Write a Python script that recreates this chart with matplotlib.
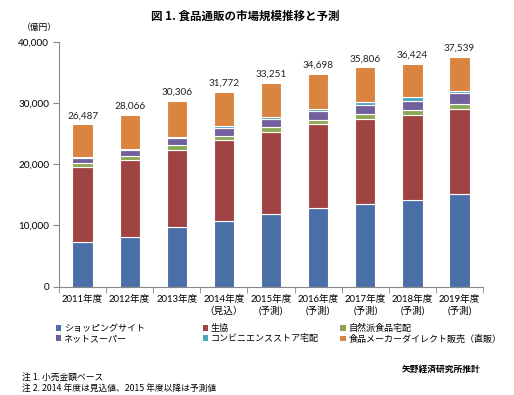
import numpy as np
import matplotlib.pyplot as plt
from matplotlib.patches import Patch

plt.rcParams['font.family'] = ['Lato', 'Noto Sans CJK JP', 'DejaVu Sans']

# データ (億円)
years = ['2011年度', '2012年度', '2013年度', '2014年度\n（見込）', '2015年度\n(予測)',
         '2016年度\n(予測)', '2017年度\n(予測)', '2018年度\n(予測)', '2019年度\n(予測)']
totals = [26487, 28066, 30306, 31772, 33251, 34698, 35806, 36424, 37539]
shopping = [7250, 8150, 9750, 10800, 11870, 12800, 13450, 14100, 15080]
coop = [12350, 12550, 12650, 13100, 13330, 13700, 13850, 13900, 13880]
nature = [650, 700, 800, 750, 870, 700, 950, 800, 820]
netsuper = [700, 870, 1000, 1200, 1230, 1500, 1450, 1570, 1790]
conveni = [200, 150, 300, 350, 350, 360, 400, 530, 430]
maker = [5337, 5646, 5806, 5572, 5601, 5638, 5706, 5524, 5539]

names = ['ショッピングサイト', '生協', '自然派食品宅配', 'ネットスーパー',
         'コンビニエンスストア宅配', '食品メーカーダイレクト販売（直販）']
colors = ['#4a6ea6', '#a04343', '#8ba955', '#72609c', '#4aa5bf', '#d9843f']
series = [shopping, coop, nature, netsuper, conveni, maker]

fig = plt.figure(figsize=(5.14, 3.95), dpi=100)
ax = fig.add_axes([0.1148, 0.2742, 0.825, 0.6202])

x = np.arange(len(years))
bottom = np.zeros(len(years))
for vals, c in zip(series, colors):
    ax.bar(x, vals, 0.43, bottom=bottom, color=c, edgecolor='white', linewidth=0.8)
    bottom += np.array(vals)

for xi, t in zip(x, totals):
    ax.annotate(f'{t:,}', (xi, t), xytext=(0, 3), textcoords='offset points',
                ha='center', va='bottom', fontsize=7.2, color='#222222')

ax.set_xlim(-0.5, len(years) - 0.5)
ax.set_ylim(0, 40000)
ax.set_yticks(np.arange(0, 40001, 10000))
ax.set_yticklabels([f'{v:,}' for v in range(0, 40001, 10000)], fontsize=7.2)
ax.set_xticks(x)
ax.set_xticklabels(years, fontsize=6.9, linespacing=1.3)
ax.set_xticks(np.arange(-0.5, len(years)), minor=True)
ax.tick_params(axis='x', which='major', length=0, pad=6)
ax.tick_params(axis='x', which='minor', length=4, color='#888888')
ax.tick_params(axis='y', length=4, color='#888888', pad=3)
for s in ['top', 'right']:
    ax.spines[s].set_visible(False)
for s in ['left', 'bottom']:
    ax.spines[s].set_color('#888888')
    ax.spines[s].set_linewidth(0.8)

fig.text(0.478, 0.96, '図 1. 食品通販の市場規模推移と予測', ha='center', va='center',
         fontsize=8.3, fontweight='bold', family='Noto Sans CJK JP')
fig.text(0.043, 0.93, '（億円）', ha='left', va='center', fontsize=6.3,
         family='Noto Sans CJK JP')

# 凡例 (3列)
handles = [Patch(facecolor=c, edgecolor='none') for c in colors]
cols_x = [0.108, 0.394, 0.662]
for i, cx in enumerate(cols_x):
    fig.legend([handles[i], handles[i + 3]], [names[i], names[i + 3]],
               loc='upper left', bbox_to_anchor=(cx, 0.18), frameon=False,
               handlelength=0.6, handleheight=0.6, handletextpad=0.3,
               labelspacing=0.15, borderpad=0, borderaxespad=0,
               prop={'family': 'Noto Sans CJK JP', 'size': 6.5})

fig.text(0.934, 0.066, '矢野経済研究所推計', ha='right', va='center', fontsize=6.3,
         fontweight='bold', family='Noto Sans CJK JP')
fig.text(0.043, 0.045, '注 1. 小売金額ベース', ha='left', va='center', fontsize=6.3,
         family='Noto Sans CJK JP')
fig.text(0.043, 0.018, '注 2. 2014 年度は見込値、2015 年度以降は予測値', ha='left',
         va='center', fontsize=6.3, family='Noto Sans CJK JP')

fig.savefig('out.png', dpi=100)
